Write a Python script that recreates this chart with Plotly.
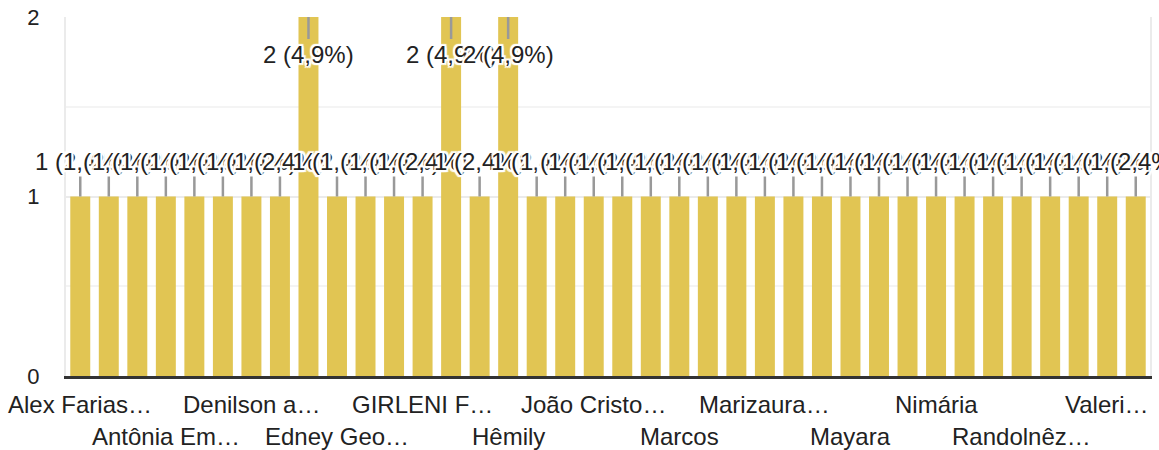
import plotly.graph_objects as go

# ---- data ----
names = [
    "Alex Farias da Silva", "Ana Beatriz", "Ana Paula", "Antônia Emília", "Bruno", "Carla",
    "Denilson alves", "Débora", "Diego", "Edney George", "Elaine", "Fernanda",
    "GIRLENI FERREIRA", "Gustavo", "Helena", "Hêmily", "Igor", "Jaqueline",
    "João Cristovão", "Juliana", "Luana", "Marcos", "Maria", "Mariana",
    "Marizaura Lima", "Mateus", "Maurício", "Mayara", "Natália", "Nayara",
    "Nimária", "Paulo", "Rafael", "Randolnêz Souza", "Renata", "Sandra",
    "Valeria Santos", "Vitória",
]
values = [1, 1, 1, 1, 1, 1, 1, 1, 2, 1, 1, 1, 1, 2, 1, 2, 1, 1, 1,
          1, 1, 1, 1, 1, 1, 1, 1, 1, 1, 1, 1, 1, 1, 1, 1, 1, 1, 1]
tick_positions = [0, 3, 6, 9, 12, 15, 18, 21, 24, 27, 30, 33, 36]
tick_labels = ["Alex Farias…", "Antônia Em…", "Denilson a…", "Edney Geo…",
               "GIRLENI F…", "Hêmily", "João Cristo…", "Marcos", "Marizaura…",
               "Mayara", "Nimária", "Randolnêz…", "Valeri…"]
y_ticks = [0, 1, 2]

total = sum(values)
FONT = "Arial, Liberation Sans, sans-serif"
BAR = "#e1c553"
HALO = ("1px 1px 1px #fff, -1px -1px 1px #fff, 1px -1px 1px #fff, -1px 1px 1px #fff, "
        "0px 2px 1px #fff, 0px -2px 1px #fff, 2px 0px 1px #fff, -2px 0px 1px #fff, "
        "2px 2px 1px #fff, -2px -2px 1px #fff, 2px -2px 1px #fff, -2px 2px 1px #fff")

fig = go.Figure(go.Bar(x=names, y=values, marker_color=BAR, marker_line_width=0,
                       hoverinfo="x+y"))

ann = []
ymax = max(values)
for n, v in zip(names, values):
    pct = f"{v / total * 100:.1f}".replace(".", ",")
    inside = v >= ymax
    ann.append(dict(
        x=n, y=v, xref="x", yref="y", text=f"{v} ({pct}%)",
        showarrow=True, arrowhead=0, arrowwidth=2.5, arrowcolor="#999999",
        ax=0, ay=37 if inside else -35, standoff=0,
        font=dict(family=FONT, size=24, color="#222222", shadow=HALO),
    ))

for k, (p, lab) in enumerate(zip(tick_positions, tick_labels)):
    ann.append(dict(
        x=names[p], y=0, xref="x", yref="paper", text=lab, showarrow=False,
        yanchor="middle", yshift=-28 if k % 2 == 0 else -60,
        font=dict(family=FONT, size=24, color="#222222"),
    ))

fig.update_layout(
    width=1159, height=450,
    margin=dict(l=66, r=9, t=17, b=74),
    paper_bgcolor="white", plot_bgcolor="white",
    showlegend=False, bargap=0.3,
    annotations=ann,
    xaxis=dict(showticklabels=False, showgrid=False, ticks="", automargin=False,
               showline=True, linecolor="#333333", linewidth=3, zeroline=False,
               range=[-0.5, len(names) - 0.5]),
    yaxis=dict(range=[0, 2], tickvals=y_ticks, ticktext=[str(t) for t in y_ticks],
               tickfont=dict(family=FONT, size=22, color="#222222"),
               ticklabelstandoff=20, automargin=False,
               showgrid=True, gridcolor="#ebebeb", gridwidth=2,
               minor=dict(dtick=0.5, showgrid=True, gridcolor="#f4f4f4", gridwidth=2),
               showline=True, linecolor="#ebebeb", linewidth=2, mirror=True,
               zeroline=False),
)

fig.write_html("out.html", config={"displayModeBar": False},
               post_script="document.body.style.margin='0';document.body.style.overflow='hidden';")
